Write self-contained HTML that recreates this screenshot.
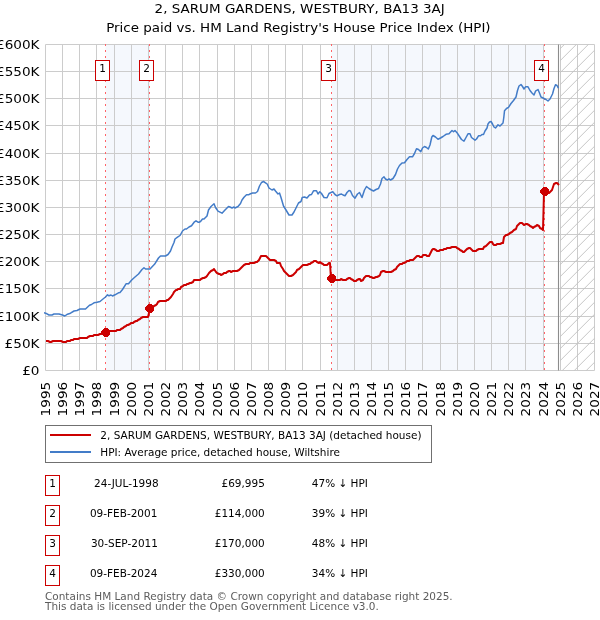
<!DOCTYPE html>
<html><head><meta charset="utf-8"><title>2, SARUM GARDENS, WESTBURY, BA13 3AJ</title>
<style>html,body{margin:0;padding:0;background:#fff}svg{display:block}text{font-family:"DejaVu Sans","Liberation Sans",sans-serif}</style></head><body>
<svg width="600" height="620" viewBox="0 0 600 620">
<defs><pattern id="h" patternUnits="userSpaceOnUse" width="12" height="12" x="0" y="8.8"><path d="M-1,13 L13,-1 M-1,1 L1,-1 M11,13 L13,11" stroke="#c0c0c0" stroke-width="0.9" fill="none"/></pattern><clipPath id="c"><rect x="44" y="44.5" width="550.5" height="326"/></clipPath></defs>
<rect width="600" height="620" fill="#fff"/>
<rect x="105.57" y="44.5" width="44.32" height="326" fill="#f5f8fd"/>
<rect x="331.45" y="44.5" width="213.02" height="326" fill="#f5f8fd"/>
<path d="M45.5,44.5V370.5M62.5,44.5V370.5M79.5,44.5V370.5M96.5,44.5V370.5M114.5,44.5V370.5M131.5,44.5V370.5M148.5,44.5V370.5M165.5,44.5V370.5M182.5,44.5V370.5M199.5,44.5V370.5M217.5,44.5V370.5M234.5,44.5V370.5M251.5,44.5V370.5M268.5,44.5V370.5M285.5,44.5V370.5M302.5,44.5V370.5M320.5,44.5V370.5M337.5,44.5V370.5M354.5,44.5V370.5M371.5,44.5V370.5M388.5,44.5V370.5M405.5,44.5V370.5M422.5,44.5V370.5M440.5,44.5V370.5M457.5,44.5V370.5M474.5,44.5V370.5M491.5,44.5V370.5M508.5,44.5V370.5M525.5,44.5V370.5M543.5,44.5V370.5M560.5,44.5V370.5M577.5,44.5V370.5M594.5,44.5V370.5M45.5,370.5H594.5M45.5,343.5H594.5M45.5,316.5H594.5M45.5,288.5H594.5M45.5,261.5H594.5M45.5,234.5H594.5M45.5,207.5H594.5M45.5,180.5H594.5M45.5,153.5H594.5M45.5,125.5H594.5M45.5,98.5H594.5M45.5,71.5H594.5M45.5,44.5H594.5" stroke="#cccccc" stroke-width="1" fill="none"/>
<rect x="560.2" y="44.5" width="34.3" height="326" fill="url(#h)"/>
<path d="M558.5,44.5V370.5" stroke="#8c8c8c" stroke-width="1.1" fill="none"/>
<path d="M105.5,44V370" stroke="#ff6468" stroke-width="1" stroke-dasharray="2,4" stroke-dashoffset="0" fill="none"/>
<path d="M149.5,44V370" stroke="#ff6468" stroke-width="1" stroke-dasharray="2,4" stroke-dashoffset="0" fill="none"/>
<path d="M331.5,44V370" stroke="#ff6468" stroke-width="1" stroke-dasharray="2,4" stroke-dashoffset="0" fill="none"/>
<path d="M544.5,44V370" stroke="#ff6468" stroke-width="1" stroke-dasharray="2,4" stroke-dashoffset="0" fill="none"/>
<g clip-path="url(#c)"><path d="M44.0,312.6 L45.5,313.2 L47.0,313.8 L49.0,315.0 L52.0,315.0 L54.0,314.0 L59.0,314.0 L62.5,315.0 L64.8,316.0 L67.5,314.2 L70.5,313.2 L74.0,311.0 L77.0,310.5 L80.0,309.0 L85.5,309.0 L89.5,305.2 L91.5,304.5 L94.0,302.8 L97.0,302.2 L100.0,301.5 L103.0,299.0 L105.5,297.0 L107.5,294.8 L109.0,295.8 L111.0,295.0 L112.5,296.0 L115.0,294.8 L118.5,292.8 L120.0,292.5 L122.5,289.5 L126.2,283.7 L128.5,283.7 L131.7,280.0 L135.0,277.0 L138.5,274.0 L142.0,269.5 L144.0,267.7 L145.5,269.0 L150.0,269.0 L154.5,264.3 L158.5,258.0 L160.5,256.0 L165.5,256.0 L168.0,254.5 L170.5,251.0 L172.0,247.0 L174.0,242.5 L175.0,239.0 L177.5,237.2 L180.0,235.5 L182.5,231.0 L185.0,229.0 L186.5,229.0 L189.0,227.0 L191.5,225.8 L194.5,221.8 L196.0,220.8 L198.0,222.2 L199.0,222.2 L200.5,221.5 L202.5,219.0 L204.0,219.0 L207.0,216.0 L208.5,210.0 L211.0,206.5 L214.0,203.8 L215.5,207.5 L218.0,211.2 L222.0,213.2 L225.0,210.0 L228.5,206.5 L230.0,207.0 L232.0,208.0 L234.0,207.0 L235.0,208.0 L238.0,206.5 L240.5,203.5 L242.0,200.0 L244.0,197.2 L246.5,194.8 L248.5,194.8 L250.0,194.0 L252.5,193.0 L255.5,193.0 L257.5,191.5 L259.5,186.0 L261.5,182.5 L263.5,181.5 L265.5,182.8 L267.2,184.0 L269.0,188.0 L272.0,190.0 L274.0,189.0 L275.5,191.0 L278.0,194.0 L279.5,193.0 L281.0,197.5 L283.5,206.0 L286.0,210.0 L289.0,215.0 L292.0,215.0 L294.0,212.0 L296.5,207.0 L298.5,203.0 L301.0,201.5 L302.2,197.5 L304.5,197.0 L307.0,198.0 L309.5,195.0 L311.5,194.5 L313.5,190.8 L316.5,190.8 L318.0,194.0 L319.8,191.8 L321.5,193.5 L324.0,197.5 L327.0,197.8 L329.0,193.5 L331.0,192.5 L332.8,191.8 L335.0,194.5 L337.0,195.8 L339.5,194.5 L341.5,194.0 L343.0,195.0 L345.0,195.8 L347.0,192.5 L349.0,190.5 L350.5,191.0 L352.5,195.5 L355.0,198.2 L357.5,194.0 L359.5,192.5 L362.0,197.5 L364.5,190.0 L366.5,186.5 L369.0,188.5 L371.5,190.0 L373.5,191.0 L376.0,189.5 L378.5,188.5 L380.5,184.0 L382.0,178.5 L384.0,176.8 L385.5,179.0 L387.5,180.0 L389.0,178.8 L390.5,180.0 L393.0,178.5 L395.5,174.5 L397.5,169.0 L399.5,165.5 L402.0,163.0 L404.5,162.8 L407.0,159.5 L409.5,156.8 L412.5,156.8 L414.5,153.5 L416.5,148.7 L418.5,149.5 L420.8,151.8 L422.5,148.0 L424.5,146.5 L426.5,147.5 L428.3,149.0 L430.0,145.0 L431.8,137.0 L433.0,135.5 L435.5,137.0 L438.0,139.2 L440.5,138.0 L443.0,136.5 L446.0,134.3 L449.0,133.7 L452.0,130.5 L453.5,131.8 L455.0,130.5 L457.0,132.7 L459.5,136.5 L461.5,139.5 L464.0,141.2 L466.0,137.5 L468.0,133.8 L470.0,133.8 L471.5,137.5 L475.0,140.2 L476.5,139.0 L478.5,135.8 L480.5,135.8 L482.0,134.5 L483.5,134.5 L485.0,131.0 L487.0,128.0 L488.0,124.0 L489.5,122.0 L491.0,121.5 L492.5,124.0 L494.0,127.0 L495.5,128.0 L498.0,124.8 L500.0,126.0 L503.0,123.0 L503.8,117.5 L504.5,110.8 L506.5,108.5 L508.5,107.3 L511.0,103.5 L513.5,100.5 L516.0,97.0 L517.5,90.5 L519.0,86.0 L521.0,84.5 L522.5,86.5 L524.0,89.0 L525.5,86.8 L528.0,86.8 L530.0,90.5 L532.0,93.0 L534.0,95.0 L535.5,91.2 L538.0,89.5 L539.5,93.0 L541.0,97.0 L544.0,98.5 L546.0,99.5 L548.0,101.0 L550.0,99.0 L552.5,94.0 L554.0,88.5 L555.5,84.8 L557.0,85.5 L558.4,88.2" stroke="#437cc8" stroke-width="1.5" fill="none" stroke-linejoin="round"/>
<path d="M46.0,341.0 L47.0,341.0 L48.0,341.0 L50.0,342.0 L51.0,342.0 L53.0,341.0 L54.0,341.0 L56.0,341.0 L57.0,341.0 L58.0,341.0 L60.0,341.0 L61.0,341.0 L63.0,342.0 L64.0,342.0 L66.0,342.0 L67.0,341.0 L68.0,341.0 L70.0,341.0 L71.0,340.0 L73.0,340.0 L74.0,339.0 L76.0,339.0 L77.0,339.0 L78.0,339.0 L80.0,338.0 L81.0,338.0 L83.0,338.0 L84.0,338.0 L86.0,338.0 L87.0,338.0 L88.0,337.0 L90.0,336.0 L91.0,336.0 L93.0,336.0 L94.0,335.0 L96.0,335.0 L97.0,335.0 L98.0,335.0 L100.0,334.0 L101.0,334.0 L103.0,333.0 L104.0,333.0 L106.0,333.0 L107.0,331.0 L108.0,331.0 L110.0,331.0 L111.0,331.0 L113.0,331.0 L114.0,331.0 L116.0,331.0 L117.0,330.0 L118.0,330.0 L120.0,330.0 L121.0,329.0 L123.0,328.0 L124.0,327.0 L126.0,326.0 L127.0,325.0 L128.0,325.0 L130.0,324.0 L131.0,323.0 L133.0,323.0 L134.0,322.0 L136.0,321.0 L137.0,321.0 L138.0,320.0 L140.0,319.0 L141.0,318.0 L143.0,317.0 L144.0,317.0 L146.0,317.0 L147.0,317.0 L148.0,317.0 L150.0,309.0 L151.0,308.0 L153.0,307.0 L154.0,306.0 L156.0,305.0 L157.0,304.0 L158.0,302.0 L160.0,301.0 L161.0,301.0 L163.0,301.0 L164.0,301.0 L166.0,301.0 L167.0,300.0 L168.0,300.0 L170.0,298.0 L171.0,297.0 L173.0,294.0 L174.0,292.0 L176.0,290.0 L177.0,290.0 L178.0,289.0 L180.0,289.0 L181.0,287.0 L183.0,286.0 L184.0,285.0 L186.0,285.0 L187.0,284.0 L188.0,284.0 L190.0,283.0 L191.0,283.0 L193.0,282.0 L194.0,280.0 L196.0,280.0 L197.0,280.0 L198.0,280.0 L200.0,280.0 L201.0,279.0 L203.0,278.0 L204.0,278.0 L206.0,277.0 L207.0,276.0 L209.0,273.0 L210.0,272.0 L211.0,271.0 L213.0,270.0 L214.0,269.0 L216.0,272.0 L217.0,273.0 L219.0,274.0 L220.0,274.0 L221.0,275.0 L223.0,274.0 L224.0,273.0 L226.0,273.0 L227.0,272.0 L229.0,271.0 L230.0,271.0 L231.0,272.0 L233.0,271.0 L234.0,271.0 L236.0,271.0 L237.0,271.0 L239.0,270.0 L240.0,269.0 L241.0,268.0 L243.0,266.0 L244.0,265.0 L246.0,264.0 L247.0,264.0 L249.0,264.0 L250.0,263.0 L251.0,263.0 L253.0,263.0 L254.0,263.0 L256.0,262.0 L257.0,262.0 L259.0,260.0 L260.0,258.0 L261.0,256.0 L263.0,256.0 L264.0,256.0 L266.0,256.0 L267.0,257.0 L269.0,259.0 L270.0,260.0 L271.0,260.0 L273.0,260.0 L274.0,260.0 L276.0,261.0 L277.0,263.0 L279.0,263.0 L280.0,263.0 L281.0,266.0 L283.0,269.0 L284.0,271.0 L286.0,273.0 L287.0,274.0 L289.0,276.0 L290.0,276.0 L291.0,276.0 L293.0,275.0 L294.0,274.0 L296.0,272.0 L297.0,270.0 L299.0,269.0 L300.0,268.0 L301.0,267.0 L303.0,265.0 L304.0,265.0 L306.0,265.0 L307.0,265.0 L309.0,264.0 L310.0,264.0 L311.0,263.0 L313.0,262.0 L314.0,261.0 L316.0,261.0 L317.0,262.0 L319.0,263.0 L320.0,262.0 L321.0,263.0 L323.0,264.0 L324.0,265.0 L326.0,265.0 L327.0,265.0 L329.0,263.0 L330.0,263.0 L331.0,279.0 L333.0,278.0 L334.0,279.0 L336.0,280.0 L337.0,280.0 L339.0,280.0 L340.0,280.0 L341.0,279.0 L343.0,280.0 L344.0,280.0 L346.0,280.0 L347.0,279.0 L349.0,278.0 L350.0,278.0 L351.0,279.0 L353.0,280.0 L354.0,281.0 L356.0,281.0 L357.0,280.0 L359.0,279.0 L360.0,279.0 L361.0,281.0 L363.0,280.0 L364.0,278.0 L366.0,276.0 L367.0,276.0 L369.0,276.0 L370.0,277.0 L371.0,277.0 L373.0,278.0 L374.0,278.0 L376.0,277.0 L377.0,277.0 L379.0,276.0 L380.0,275.0 L381.0,272.0 L383.0,271.0 L384.0,271.0 L386.0,272.0 L387.0,272.0 L389.0,272.0 L390.0,272.0 L391.0,272.0 L393.0,271.0 L394.0,270.0 L396.0,269.0 L397.0,267.0 L399.0,265.0 L400.0,264.0 L402.0,264.0 L403.0,263.0 L404.0,263.0 L406.0,262.0 L407.0,261.0 L409.0,261.0 L410.0,260.0 L412.0,260.0 L413.0,260.0 L414.0,259.0 L416.0,257.0 L417.0,256.0 L419.0,256.0 L420.0,257.0 L422.0,257.0 L423.0,255.0 L424.0,255.0 L426.0,255.0 L427.0,256.0 L429.0,256.0 L430.0,254.0 L432.0,250.0 L433.0,249.0 L434.0,249.0 L436.0,250.0 L437.0,251.0 L439.0,251.0 L440.0,250.0 L442.0,250.0 L443.0,250.0 L444.0,249.0 L446.0,249.0 L447.0,248.0 L449.0,248.0 L450.0,248.0 L452.0,247.0 L453.0,247.0 L454.0,247.0 L456.0,247.0 L457.0,248.0 L459.0,249.0 L460.0,250.0 L462.0,251.0 L463.0,252.0 L464.0,252.0 L466.0,250.0 L467.0,249.0 L469.0,248.0 L470.0,248.0 L472.0,250.0 L473.0,251.0 L474.0,251.0 L476.0,251.0 L477.0,250.0 L479.0,249.0 L480.0,249.0 L482.0,249.0 L483.0,249.0 L484.0,247.0 L486.0,246.0 L487.0,245.0 L489.0,243.0 L490.0,242.0 L492.0,242.0 L493.0,244.0 L494.0,245.0 L496.0,245.0 L497.0,244.0 L499.0,244.0 L500.0,244.0 L502.0,243.0 L503.0,243.0 L504.0,237.0 L506.0,235.0 L507.0,235.0 L509.0,234.0 L510.0,233.0 L512.0,232.0 L513.0,231.0 L514.0,230.0 L516.0,229.0 L517.0,226.0 L519.0,224.0 L520.0,223.0 L522.0,223.0 L523.0,224.0 L524.0,225.0 L526.0,224.0 L527.0,224.0 L529.0,225.0 L530.0,226.0 L532.0,227.0 L533.0,228.0 L534.0,227.0 L536.0,226.0 L537.0,225.0 L539.0,226.0 L540.0,228.0 L542.0,229.0 L543.0,230.0 L544.0,192.0 L546.0,192.0 L547.0,193.0 L549.0,193.0 L550.0,192.0 L552.0,190.0 L553.0,187.0 L554.0,184.0 L556.0,183.0 L557.0,183.0 L559.0,185.0" stroke="#cc0000" stroke-width="2" fill="none" stroke-linejoin="round"/></g>
<path d="M104.0,328.0L107.0,328.0L110.0,331.0L110.0,334.0L107.0,337.0L104.0,337.0L101.0,334.0L101.0,331.0Z" fill="#cc0000" shape-rendering="crispEdges"/>
<path d="M148.0,304.0L151.0,304.0L154.0,307.0L154.0,310.0L151.0,313.0L148.0,313.0L145.0,310.0L145.0,307.0Z" fill="#cc0000" shape-rendering="crispEdges"/>
<path d="M330.0,274.0L333.0,274.0L336.0,277.0L336.0,280.0L333.0,283.0L330.0,283.0L327.0,280.0L327.0,277.0Z" fill="#cc0000" shape-rendering="crispEdges"/>
<path d="M543.0,187.0L546.0,187.0L549.0,190.0L549.0,193.0L546.0,196.0L543.0,196.0L540.0,193.0L540.0,190.0Z" fill="#cc0000" shape-rendering="crispEdges"/>
<rect x="95.5" y="60.5" width="14" height="20" fill="#fff" stroke="#cc0000" stroke-width="1"/>
<text transform="translate(102.50,72.00) scale(1,1.045)" font-size="10.5" text-anchor="middle" fill="#000">1</text>
<rect x="139.5" y="60.5" width="14" height="20" fill="#fff" stroke="#cc0000" stroke-width="1"/>
<text transform="translate(146.50,72.00) scale(1,1.045)" font-size="10.5" text-anchor="middle" fill="#000">2</text>
<rect x="321.5" y="60.5" width="14" height="20" fill="#fff" stroke="#cc0000" stroke-width="1"/>
<text transform="translate(328.50,72.00) scale(1,1.045)" font-size="10.5" text-anchor="middle" fill="#000">3</text>
<rect x="534.5" y="60.5" width="14" height="20" fill="#fff" stroke="#cc0000" stroke-width="1"/>
<text transform="translate(541.50,72.00) scale(1,1.045)" font-size="10.5" text-anchor="middle" fill="#000">4</text>
<text transform="translate(299.70,13.00) scale(1,0.915)" font-size="13.5" text-anchor="middle" fill="#000">2, SARUM GARDENS, WESTBURY, BA13 3AJ</text>
<text transform="translate(298.40,32.00) scale(1,0.918)" font-size="13.45" text-anchor="middle" fill="#000">Price paid vs. HM Land Registry's House Price Index (HPI)</text>
<text transform="translate(39.50,375.00) scale(1,0.91)" font-size="13.6" text-anchor="end" fill="#000">£0</text>
<text transform="translate(39.50,348.00) scale(1,0.91)" font-size="13.6" text-anchor="end" fill="#000">£50K</text>
<text transform="translate(39.50,321.00) scale(1,0.91)" font-size="13.6" text-anchor="end" fill="#000">£100K</text>
<text transform="translate(39.50,293.00) scale(1,0.91)" font-size="13.6" text-anchor="end" fill="#000">£150K</text>
<text transform="translate(39.50,266.00) scale(1,0.91)" font-size="13.6" text-anchor="end" fill="#000">£200K</text>
<text transform="translate(39.50,239.00) scale(1,0.91)" font-size="13.6" text-anchor="end" fill="#000">£250K</text>
<text transform="translate(39.50,212.00) scale(1,0.91)" font-size="13.6" text-anchor="end" fill="#000">£300K</text>
<text transform="translate(39.50,185.00) scale(1,0.91)" font-size="13.6" text-anchor="end" fill="#000">£350K</text>
<text transform="translate(39.50,158.00) scale(1,0.91)" font-size="13.6" text-anchor="end" fill="#000">£400K</text>
<text transform="translate(39.50,130.00) scale(1,0.91)" font-size="13.6" text-anchor="end" fill="#000">£450K</text>
<text transform="translate(39.50,103.00) scale(1,0.91)" font-size="13.6" text-anchor="end" fill="#000">£500K</text>
<text transform="translate(39.50,76.00) scale(1,0.91)" font-size="13.6" text-anchor="end" fill="#000">£550K</text>
<text transform="translate(39.50,49.00) scale(1,0.91)" font-size="13.6" text-anchor="end" fill="#000">£600K</text>
<text transform="translate(50.00,381.80) rotate(-90) scale(1,0.91)" font-size="13.6" text-anchor="end" fill="#000">1995</text>
<text transform="translate(67.00,381.80) rotate(-90) scale(1,0.91)" font-size="13.6" text-anchor="end" fill="#000">1996</text>
<text transform="translate(84.00,381.80) rotate(-90) scale(1,0.91)" font-size="13.6" text-anchor="end" fill="#000">1997</text>
<text transform="translate(101.00,381.80) rotate(-90) scale(1,0.91)" font-size="13.6" text-anchor="end" fill="#000">1998</text>
<text transform="translate(119.00,381.80) rotate(-90) scale(1,0.91)" font-size="13.6" text-anchor="end" fill="#000">1999</text>
<text transform="translate(136.00,381.80) rotate(-90) scale(1,0.91)" font-size="13.6" text-anchor="end" fill="#000">2000</text>
<text transform="translate(153.00,381.80) rotate(-90) scale(1,0.91)" font-size="13.6" text-anchor="end" fill="#000">2001</text>
<text transform="translate(170.00,381.80) rotate(-90) scale(1,0.91)" font-size="13.6" text-anchor="end" fill="#000">2002</text>
<text transform="translate(187.00,381.80) rotate(-90) scale(1,0.91)" font-size="13.6" text-anchor="end" fill="#000">2003</text>
<text transform="translate(204.00,381.80) rotate(-90) scale(1,0.91)" font-size="13.6" text-anchor="end" fill="#000">2004</text>
<text transform="translate(222.00,381.80) rotate(-90) scale(1,0.91)" font-size="13.6" text-anchor="end" fill="#000">2005</text>
<text transform="translate(239.00,381.80) rotate(-90) scale(1,0.91)" font-size="13.6" text-anchor="end" fill="#000">2006</text>
<text transform="translate(256.00,381.80) rotate(-90) scale(1,0.91)" font-size="13.6" text-anchor="end" fill="#000">2007</text>
<text transform="translate(273.00,381.80) rotate(-90) scale(1,0.91)" font-size="13.6" text-anchor="end" fill="#000">2008</text>
<text transform="translate(290.00,381.80) rotate(-90) scale(1,0.91)" font-size="13.6" text-anchor="end" fill="#000">2009</text>
<text transform="translate(307.00,381.80) rotate(-90) scale(1,0.91)" font-size="13.6" text-anchor="end" fill="#000">2010</text>
<text transform="translate(325.00,381.80) rotate(-90) scale(1,0.91)" font-size="13.6" text-anchor="end" fill="#000">2011</text>
<text transform="translate(342.00,381.80) rotate(-90) scale(1,0.91)" font-size="13.6" text-anchor="end" fill="#000">2012</text>
<text transform="translate(359.00,381.80) rotate(-90) scale(1,0.91)" font-size="13.6" text-anchor="end" fill="#000">2013</text>
<text transform="translate(376.00,381.80) rotate(-90) scale(1,0.91)" font-size="13.6" text-anchor="end" fill="#000">2014</text>
<text transform="translate(393.00,381.80) rotate(-90) scale(1,0.91)" font-size="13.6" text-anchor="end" fill="#000">2015</text>
<text transform="translate(410.00,381.80) rotate(-90) scale(1,0.91)" font-size="13.6" text-anchor="end" fill="#000">2016</text>
<text transform="translate(427.00,381.80) rotate(-90) scale(1,0.91)" font-size="13.6" text-anchor="end" fill="#000">2017</text>
<text transform="translate(445.00,381.80) rotate(-90) scale(1,0.91)" font-size="13.6" text-anchor="end" fill="#000">2018</text>
<text transform="translate(462.00,381.80) rotate(-90) scale(1,0.91)" font-size="13.6" text-anchor="end" fill="#000">2019</text>
<text transform="translate(479.00,381.80) rotate(-90) scale(1,0.91)" font-size="13.6" text-anchor="end" fill="#000">2020</text>
<text transform="translate(496.00,381.80) rotate(-90) scale(1,0.91)" font-size="13.6" text-anchor="end" fill="#000">2021</text>
<text transform="translate(513.00,381.80) rotate(-90) scale(1,0.91)" font-size="13.6" text-anchor="end" fill="#000">2022</text>
<text transform="translate(530.00,381.80) rotate(-90) scale(1,0.91)" font-size="13.6" text-anchor="end" fill="#000">2023</text>
<text transform="translate(548.00,381.80) rotate(-90) scale(1,0.91)" font-size="13.6" text-anchor="end" fill="#000">2024</text>
<text transform="translate(565.00,381.80) rotate(-90) scale(1,0.91)" font-size="13.6" text-anchor="end" fill="#000">2025</text>
<text transform="translate(582.00,381.80) rotate(-90) scale(1,0.91)" font-size="13.6" text-anchor="end" fill="#000">2026</text>
<text transform="translate(599.00,381.80) rotate(-90) scale(1,0.91)" font-size="13.6" text-anchor="end" fill="#000">2027</text>
<rect x="45.5" y="425.5" width="386" height="37" fill="#fff" stroke="#707070" stroke-width="1"/>
<path d="M50,435H91" stroke="#cc0000" stroke-width="2" fill="none"/>
<path d="M50,452H91" stroke="#437cc8" stroke-width="1.8" fill="none"/>
<text transform="translate(100.30,439.00) scale(1,1.045)" font-size="10.5" fill="#000">2, SARUM GARDENS, WESTBURY, BA13 3AJ (detached house)</text>
<text transform="translate(100.30,456.00) scale(1,1.045)" font-size="10.5" fill="#000">HPI: Average price, detached house, Wiltshire</text>
<rect x="45.5" y="475.5" width="14" height="20" fill="#fff" stroke="#cc0000" stroke-width="1"/>
<text transform="translate(52.50,487.00) scale(1,1.045)" font-size="10.5" text-anchor="middle" fill="#000">1</text>
<text transform="translate(94.05,487.00) scale(1,1.045)" font-size="10.5" fill="#000">24-JUL-1998</text>
<text transform="translate(264.80,487.00) scale(1,1.045)" font-size="10.5" text-anchor="end" fill="#000">£69,995</text>
<text transform="translate(311.80,487.00) scale(1,1.045)" font-size="10.5" fill="#000">47% ↓ HPI</text>
<rect x="45.5" y="505.5" width="14" height="20" fill="#fff" stroke="#cc0000" stroke-width="1"/>
<text transform="translate(52.50,517.00) scale(1,1.045)" font-size="10.5" text-anchor="middle" fill="#000">2</text>
<text transform="translate(89.95,517.00) scale(1,1.045)" font-size="10.5" fill="#000">09-FEB-2001</text>
<text transform="translate(264.80,517.00) scale(1,1.045)" font-size="10.5" text-anchor="end" fill="#000">£114,000</text>
<text transform="translate(311.80,517.00) scale(1,1.045)" font-size="10.5" fill="#000">39% ↓ HPI</text>
<rect x="45.5" y="535.5" width="14" height="20" fill="#fff" stroke="#cc0000" stroke-width="1"/>
<text transform="translate(52.50,547.00) scale(1,1.045)" font-size="10.5" text-anchor="middle" fill="#000">3</text>
<text transform="translate(90.95,547.00) scale(1,1.045)" font-size="10.5" fill="#000">30-SEP-2011</text>
<text transform="translate(264.80,547.00) scale(1,1.045)" font-size="10.5" text-anchor="end" fill="#000">£170,000</text>
<text transform="translate(311.80,547.00) scale(1,1.045)" font-size="10.5" fill="#000">48% ↓ HPI</text>
<rect x="45.5" y="565.5" width="14" height="20" fill="#fff" stroke="#cc0000" stroke-width="1"/>
<text transform="translate(52.50,577.00) scale(1,1.045)" font-size="10.5" text-anchor="middle" fill="#000">4</text>
<text transform="translate(89.95,577.00) scale(1,1.045)" font-size="10.5" fill="#000">09-FEB-2024</text>
<text transform="translate(264.80,577.00) scale(1,1.045)" font-size="10.5" text-anchor="end" fill="#000">£330,000</text>
<text transform="translate(311.80,577.00) scale(1,1.045)" font-size="10.5" fill="#000">34% ↓ HPI</text>
<text transform="translate(45.00,600.00) scale(1,1.045)" font-size="10.5" fill="#5c5c5c">Contains HM Land Registry data © Crown copyright and database right 2025.</text>
<text transform="translate(45.00,610.00) scale(1,1.045)" font-size="10.5" fill="#5c5c5c">This data is licensed under the Open Government Licence v3.0.</text>
</svg></body></html>
